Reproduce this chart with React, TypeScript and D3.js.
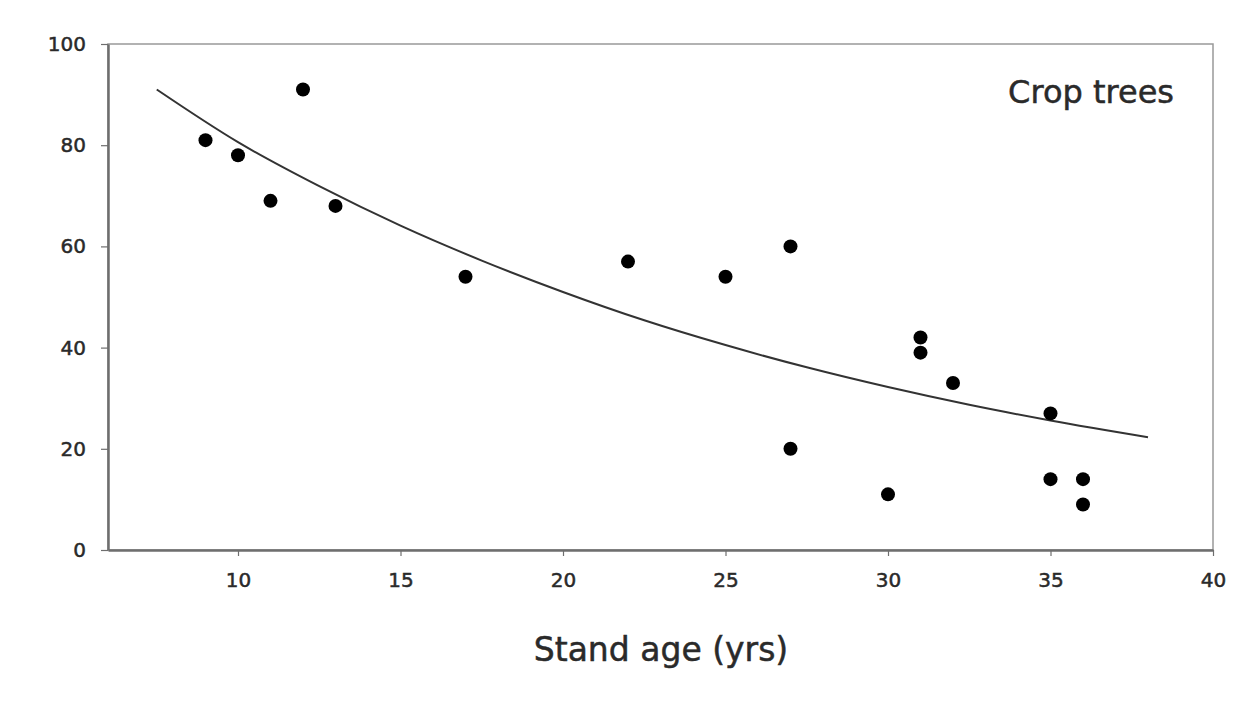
import React, { useEffect, useRef } from "react";
import * as d3 from "d3";

// stand age (yrs) and crop trees (%)
const ages = [9, 10, 11, 12, 13, 17, 22, 25, 27, 27, 30, 31, 31, 32, 35, 35, 36, 36];
const cropTrees = [81, 78, 69, 91, 68, 54, 57, 54, 60, 20, 11, 42, 39, 33, 27, 14, 14, 9];

// trend line
const fitAges = [7.5, 10, 12.5, 15, 17.5, 20, 22.5, 25, 27.5, 30, 32.5, 35, 38];
const fitValues = [91, 80.6, 71.9, 64.1, 57.2, 51.0, 45.4, 40.5, 36.1, 32.2, 28.7, 25.6, 22.3];

const xTicks = [10, 15, 20, 25, 30, 35, 40];
const yTicks = [0, 20, 40, 60, 80, 100];

const W = 1233, H = 710;
const margin = { left: 108, right: 20, top: 44, bottom: 160 };

export default function App() {
  const ref = useRef<SVGSVGElement>(null);

  useEffect(() => {
    const svg = d3.select(ref.current);
    svg.selectAll("*").remove();

    const x = d3.scaleLinear().domain([6, 40]).range([margin.left, W - margin.right]);
    const y = d3.scaleLinear().domain([0, 100]).range([H - margin.bottom, margin.top]);
    const font = "DejaVu Sans, Verdana, sans-serif";
    const axisColor = "#6e6e6e";
    const textColor = "#2a2a2a";

    svg.append("rect").attr("width", W).attr("height", H).attr("fill", "#fff");

    // frame
    svg.append("rect")
      .attr("x", x(6)).attr("y", y(100))
      .attr("width", x(40) - x(6)).attr("height", y(0) - y(100))
      .attr("fill", "none").attr("stroke", "#999").attr("stroke-width", 1.5);

    const xAxis = svg.append("g")
      .attr("transform", `translate(0,${y(0)})`)
      .call(d3.axisBottom(x).tickValues(xTicks).tickSize(6).tickSizeOuter(0).tickPadding(17));
    const yAxis = svg.append("g")
      .attr("transform", `translate(${x(6)},0)`)
      .call(d3.axisLeft(y).tickValues(yTicks).tickSize(7).tickSizeOuter(0).tickPadding(15));

    [xAxis, yAxis].forEach(g => {
      g.select(".domain").attr("stroke", axisColor).attr("stroke-width", 2.5);
      g.selectAll(".tick line").attr("stroke", axisColor).attr("stroke-width", 1.2);
      g.selectAll(".tick text")
        .attr("fill", textColor)
        .attr("stroke", textColor).attr("stroke-width", 0.5)
        .style("font-family", font).style("font-size", "20px");
    });

    // trend line
    const line = d3.line<number>()
      .x((d, i) => x(fitAges[i]))
      .y(d => y(d))
      .curve(d3.curveMonotoneX);
    svg.append("path")
      .datum(fitValues)
      .attr("d", line)
      .attr("fill", "none")
      .attr("stroke", "#333")
      .attr("stroke-width", 2);

    svg.append("g")
      .selectAll("circle")
      .data(cropTrees)
      .enter()
      .append("circle")
      .attr("cx", (d, i) => x(ages[i]))
      .attr("cy", d => y(d))
      .attr("r", 7)
      .attr("fill", "#000");

    svg.append("text")
      .attr("x", 1174).attr("y", 103)
      .attr("text-anchor", "end")
      .style("font-family", font).style("font-size", "32px")
      .attr("fill", textColor).attr("stroke", textColor).attr("stroke-width", 0.5)
      .text("Crop trees");

    svg.append("text")
      .attr("x", 661).attr("y", 661)
      .attr("text-anchor", "middle")
      .style("font-family", font).style("font-size", "33px")
      .attr("fill", textColor).attr("stroke", textColor).attr("stroke-width", 0.5)
      .text("Stand age (yrs)");
  }, []);

  return (
    <div style={{ position: "absolute", left: 0, top: 0 }}>
      <svg ref={ref} width={W} height={H} />
    </div>
  );
}
